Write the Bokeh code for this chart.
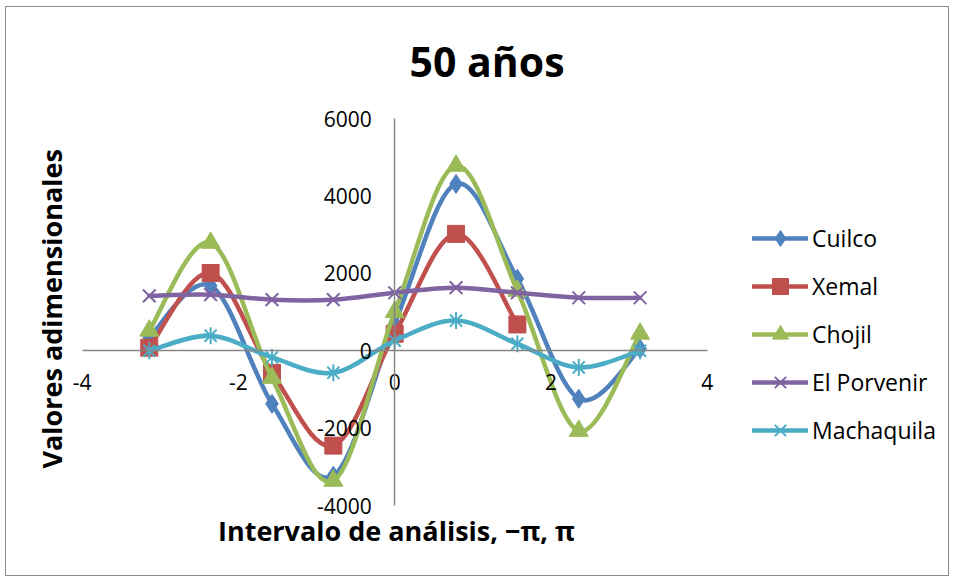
import numpy as np
from bokeh.plotting import figure
from bokeh.models import (LinearAxis, Legend, LegendItem, Title, ColumnDataSource,
                          FixedTicker, Label)
from bokeh.embed import file_html
from bokeh.resources import INLINE

# ---- data -------------------------------------------------------------
x_vals = [-3.1416, -2.3562, -1.5708, -0.7854, 0.0, 0.7854, 1.5708, 2.3562, 3.1416]
cuilco = [350, 1680, -1370, -3230, 700, 4310, 1860, -1240, 50]
xemal = [80, 2010, -570, -2450, 440, 3020, 680]
chojil = [520, 2790, -700, -3360, 1000, 4780, 1550, -2070, 440]
porvenir = [1420, 1450, 1320, 1320, 1500, 1630, 1500, 1370, 1370]
machaquila = [0, 390, -170, -570, 260, 780, 180, -430, 0]

series_names = ["Cuilco", "Xemal", "Chojil", "El Porvenir", "Machaquila"]
series_vals = [cuilco, xemal, chojil, porvenir, machaquila]
colors = ["#4F81BD", "#C0504D", "#9BBB59", "#8064A2", "#4BACC6"]

x_ticks = [-4, -2, 0, 2, 4]
x_tick_labels = ["-4", "-2", "0", "2", "4"]
y_ticks = [-4000, -2000, 0, 2000, 4000, 6000]
y_tick_labels = ["-4000", "-2000", "0", "2000", "4000", "6000"]

TITLE = "50 años"
X_TITLE = "Intervalo de análisis, −π, π"
Y_TITLE = "Valores adimensionales"

FONT = "Open Sans"


def smooth_segments(xs, ys):
    """Excel-like smoothed line: cubic Bezier segments through the points."""
    xs = np.asarray(xs, float)
    ys = np.asarray(ys, float)
    n = len(xs)
    d = dict(x0=[], y0=[], x1=[], y1=[], cx0=[], cy0=[], cx1=[], cy1=[])
    for i in range(n - 1):
        a = i - 1 if i > 0 else i
        b = i + 2 if i + 2 < n else i + 1
        d["x0"].append(xs[i]); d["y0"].append(ys[i])
        d["x1"].append(xs[i + 1]); d["y1"].append(ys[i + 1])
        d["cx0"].append(xs[i] + (xs[i + 1] - xs[a]) / 6)
        d["cy0"].append(ys[i] + (ys[i + 1] - ys[a]) / 6)
        d["cx1"].append(xs[i + 1] - (xs[b] - xs[i]) / 6)
        d["cy1"].append(ys[i + 1] - (ys[b] - ys[i]) / 6)
    return ColumnDataSource(d)


# the frame is widened beyond the axes so that legend and labels fit inside it
p = figure(width=944, height=570, x_range=(-4.15, 7.0), y_range=(-5600, 6260),
           output_backend="svg", toolbar_location=None,
           x_axis_location=None, y_axis_location=None,
           min_border_left=64, min_border_right=9,
           min_border_top=101, min_border_bottom=10,
           title=TITLE)
p.styles = {"border": "1px solid #8c8c8c", "margin-left": "5px", "margin-top": "6px"}
p.outline_line_color = None
p.grid.grid_line_color = None
p.background_fill_color = "white"
p.border_fill_color = "white"

p.title.text_font = FONT
p.title.text_font_size = "41px"
p.title.text_font_style = "bold"
p.title.text_color = "black"
p.title.align = "left"
p.title.offset = 339
p.title.standoff = 39

# axes crossing at zero
xaxis = LinearAxis(fixed_location=0, ticker=FixedTicker(ticks=x_ticks), bounds=(-4, 4),
                   major_label_overrides=dict(zip(x_ticks, x_tick_labels)))
yaxis = LinearAxis(fixed_location=0, ticker=FixedTicker(ticks=y_ticks), bounds=(-4000, 6000),
                   major_label_overrides=dict(zip(y_ticks, y_tick_labels)))
for ax in (xaxis, yaxis):
    ax.axis_line_color = "#868686"
    ax.axis_line_width = 1.5
    ax.major_tick_line_color = None
    ax.minor_tick_line_color = None
    ax.major_tick_in = 0
    ax.major_tick_out = 0
    ax.minor_tick_in = 0
    ax.minor_tick_out = 0
    ax.major_label_text_font = FONT
    ax.major_label_text_font_size = "21px"
    ax.major_label_text_color = "black"
    ax.major_label_standoff = 23
p.add_layout(xaxis, "below")
p.add_layout(yaxis, "left")

p.add_layout(Title(text=Y_TITLE, align="left", offset=99,
                   text_font=FONT, text_font_size="27px", text_font_style="bold",
                   text_color="black", standoff=2), "left")
p.add_layout(Label(text=X_TITLE, x=326, y=37, x_units="screen", y_units="screen",
                   text_align="center", text_baseline="middle",
                   text_font=FONT, text_font_size="27px", text_font_style="bold",
                   text_color="black"))

markers = ["diamond", "square", "triangle", "x", "x"]
sizes = [19, 17, 19, 18, 17]
items = []
for name, vals, col, mk, sz in zip(series_names, series_vals, colors, markers, sizes):
    xs = x_vals[:len(vals)]
    src = smooth_segments(xs, vals)
    p.bezier(x0="x0", y0="y0", x1="x1", y1="y1", cx0="cx0", cy0="cy0",
             cx1="cx1", cy1="cy1", source=src, line_color=col, line_width=4.5,
             line_cap="round")
    legend_line = p.line(x=[np.nan], y=[np.nan], line_color=col, line_width=4.5,
                         line_cap="round")
    pts = ColumnDataSource(dict(x=xs, y=vals))
    rs = [legend_line]
    if mk == "x":
        r = p.scatter("x", "y", source=pts, marker="x", size=sz,
                      line_color=col, line_width=2)
        rs.append(r)
        if name == "Machaquila":
            r2 = p.scatter("x", "y", source=pts, marker="dash", size=sz,
                           angle=np.pi / 2, line_color=col, line_width=2)
            rs.append(r2)
    else:
        r = p.scatter("x", "y", source=pts, marker=mk, size=sz,
                      fill_color=col, line_color=col)
        rs.append(r)
    items.append(LegendItem(label=name, renderers=rs))

legend = Legend(items=items, location=(682, 117), margin=0, padding=0,
                glyph_width=56, glyph_height=40, label_standoff=4,
                spacing=8, label_text_font=FONT, label_text_font_size="23px",
                label_text_color="black",
                border_line_color=None, background_fill_alpha=0)
p.add_layout(legend, "center")

open("out.html", "w").write(file_html(p, INLINE))
